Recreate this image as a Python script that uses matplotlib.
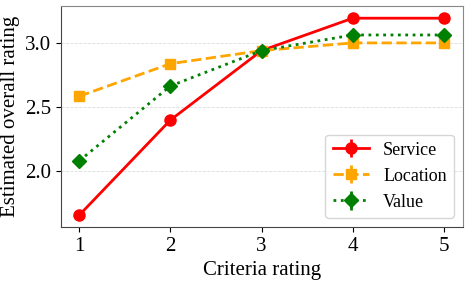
import matplotlib.pyplot as plt

plt.rcParams["font.family"] = ["Liberation Serif", "DejaVu Serif"]

criteria = [1, 2, 3, 4, 5]
service = [1.656, 2.398, 2.94, 3.193, 3.193]
location = [2.584, 2.838, 2.94, 3.0, 3.0]
value = [2.08, 2.664, 2.94, 3.062, 3.062]
no_err = [0, 0, 0, 0, 0]

fig, ax = plt.subplots(figsize=(4.7, 2.81), dpi=100)

ax.errorbar(criteria, service, yerr=no_err, color="red", linestyle="-",
            marker="o", markersize=8, linewidth=2, label="Service")
ax.errorbar(criteria, location, yerr=no_err, color="orange", linestyle="--",
            marker="s", markersize=7.5, linewidth=2, label="Location")
ax.errorbar(criteria, value, yerr=no_err, color="green", linestyle=":",
            marker="D", markersize=7.5, linewidth=2, label="Value")

ax.set_xticks(criteria)
ax.set_yticks([2.0, 2.5, 3.0])
ax.set_ylim(1.5625, 3.289)
ax.set_xlim(0.8, 5.21)
ax.grid(axis="y", linestyle="--", color="#dddddd", linewidth=0.6)
ax.set_axisbelow(True)
for side in ["top", "right"]:
    ax.spines[side].set_color("#888888")
for side in ["left", "bottom"]:
    ax.spines[side].set_color("#444444")

ax.tick_params(labelsize=15)
ax.set_xlabel("Criteria rating", fontsize=15)
ax.set_ylabel("Estimated overall rating", fontsize=15)
ax.legend(loc="lower right", fontsize=13)

fig.subplots_adjust(left=0.13, right=0.985, top=0.979, bottom=0.192)
fig.savefig("out.png", dpi=100)
